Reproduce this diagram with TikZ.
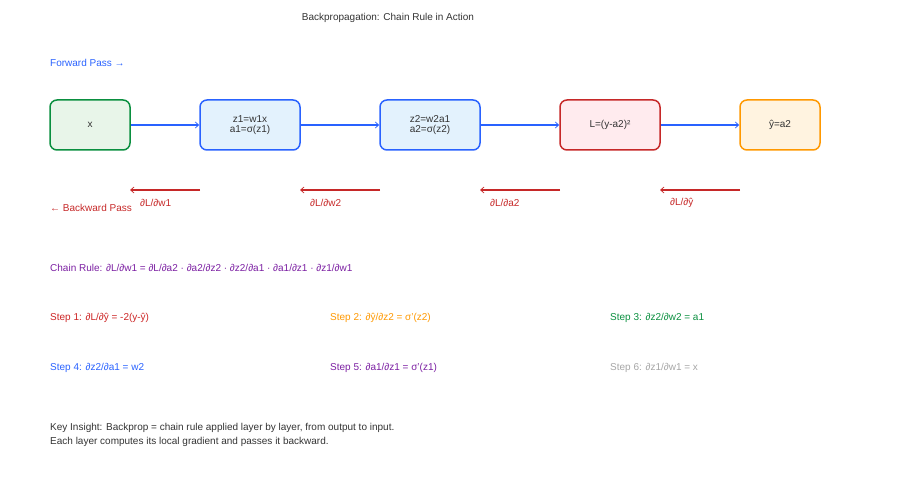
\documentclass[tikz,border=0pt]{standalone}
\usepackage{fontspec}
\setmainfont{Liberation Sans}
\usetikzlibrary{arrows.meta}
\definecolor{fwdblue}{HTML}{2962FF}
\definecolor{bwdred}{HTML}{C62828}
\definecolor{chainpurple}{HTML}{7B1FA2}
\definecolor{okgreen}{HTML}{0A8F3F}
\definecolor{warnorange}{HTML}{FF9800}
\definecolor{inkgray}{HTML}{333333}
\definecolor{greenfill}{HTML}{E8F5E9}
\definecolor{bluefill}{HTML}{E3F2FD}
\definecolor{redfill}{HTML}{FFEBEE}
\definecolor{orangefill}{HTML}{FFF3E0}
\begin{document}
\begin{tikzpicture}[
    x=1pt,y=-1pt,
    every node/.style={font=\fontsize{10}{10}\selectfont,inner sep=0pt},
    layer/.style={draw,rounded corners=7pt,line width=1.5pt,minimum height=50pt,
        text=inkgray,align=center},
    fwd/.style={draw=fwdblue,line width=1.5pt,-{Straight Barb[length=3.5pt,width=6pt,line width=0.7pt]}},
    bwd/.style={draw=bwdred,line width=1.5pt,-{Straight Barb[length=3.5pt,width=6pt,line width=0.7pt]}},
    grad/.style={text=bwdred,anchor=west,yshift=-1.5pt},
    note/.style={anchor=west,yshift=-1.5pt}
    ]
  \useasboundingbox (0,0) rectangle (900,500);
  \node (title) [text=inkgray,yshift=-1.5pt] at (388,16) {Backpropagation: Chain Rule in Action};
  \node (fwdlabel) [note,text=fwdblue] at (50,61) {Forward Pass →};
  % forward layers
  \node (x)  [layer,draw=okgreen,fill=greenfill,minimum width=80pt] at (90,125) {x};
  \node (h1) [layer,draw=fwdblue,fill=bluefill,minimum width=100pt] at (250,125) {z1=w1x\\a1=σ(z1)};
  \node (h2) [layer,draw=fwdblue,fill=bluefill,minimum width=100pt] at (430,125) {z2=w2a1\\a2=σ(z2)};
  \node (loss) [layer,draw=bwdred,fill=redfill,minimum width=100pt] at (610,125) {L=(y-a2)²};
  \node (out) [layer,draw=warnorange,fill=orangefill,minimum width=80pt] at (780,125) {ŷ=a2};
  \draw[fwd] (x) -- (h1);
  \draw[fwd] (h1) -- (h2);
  \draw[fwd] (h2) -- (loss);
  \draw[fwd] (loss) -- (out);
  % backward gradients
  \coordinate (b0) at (130,190);
  \coordinate (b1) at (200,190);
  \coordinate (b2) at (300,190);
  \coordinate (b3) at (380,190);
  \coordinate (b4) at (480,190);
  \coordinate (b5) at (560,190);
  \coordinate (b6) at (660,190);
  \coordinate (b7) at (740,190);
  \draw[bwd] (b1) -- (b0);
  \draw[bwd] (b3) -- (b2);
  \draw[bwd] (b5) -- (b4);
  \draw[bwd] (b7) -- (b6);
  \node (g1) [grad] at (140,201) {∂L/∂w1};
  \node (g2) [grad] at (310,201) {∂L/∂w2};
  \node (g3) [grad] at (490,201) {∂L/∂a2};
  \node (g4) [grad] at (670,201) {∂L/∂ŷ};
  \node (bwdlabel) [note,text=bwdred] at (50,206) {← Backward Pass};
  % chain rule and steps
  \node (chain) [note,text=chainpurple] at (50,266)
    {Chain Rule: ∂L/∂w1 = ∂L/∂a2 · ∂a2/∂z2 · ∂z2/∂a1 · ∂a1/∂z1 · ∂z1/∂w1};
  \node (s1) [note,text=bwdred!90!red] at (50,316) {Step 1: ∂L/∂ŷ = -2(y-ŷ)};
  \node (s2) [note,text=warnorange] at (330,316) {Step 2: ∂ŷ/∂z2 = σ'(z2)};
  \node (s3) [note,text=okgreen] at (610,316) {Step 3: ∂z2/∂w2 = a1};
  \node (s4) [note,text=fwdblue] at (50,366) {Step 4: ∂z2/∂a1 = w2};
  \node (s5) [note,text=chainpurple] at (330,366) {Step 5: ∂a1/∂z1 = σ'(z1)};
  \node (s6) [note,text=black!35] at (610,366) {Step 6: ∂z1/∂w1 = x};
  \node (insight) [note,text=inkgray,align=left] at (50,433)
    {Key Insight: Backprop = chain rule applied layer by layer, from output to input.\\[4pt]
     Each layer computes its local gradient and passes it backward.};
\end{tikzpicture}
\end{document}
